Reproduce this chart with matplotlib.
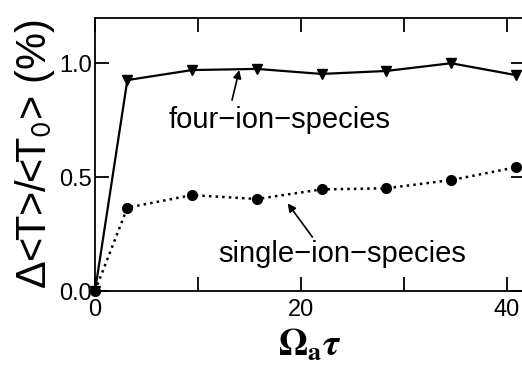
import matplotlib
matplotlib.use("Agg")
import matplotlib.pyplot as plt

plt.rcParams['font.family'] = ['Liberation Sans', 'DejaVu Sans']
plt.rcParams['mathtext.fontset'] = 'stix'

# time points (odd multiples of pi) and relative temperature change in %
omega_tau = [0.0, 3.14, 9.42, 15.71, 21.99, 28.27, 34.56, 40.84]
four_ion = [0.0, 0.926, 0.970, 0.975, 0.953, 0.966, 1.000, 0.948]
single_ion = [0.0, 0.366, 0.421, 0.404, 0.446, 0.451, 0.487, 0.543]

xticks = [0, 10, 20, 30, 40]
xticklabels = ['0', '', '20', '', '40']
yticks = [0.0, 0.5, 1.0]
yticklabels = ['0.0', '0.5', '1.0']

fig = plt.figure(figsize=(5.22, 3.73), dpi=100)
ax = fig.add_axes([0.182, 0.2198, 0.823, 0.731])

ax.plot(omega_tau, four_ion, '-', color='black', lw=1.6,
        marker='v', ms=7, clip_on=False, zorder=3)
ax.plot(omega_tau, single_ion, ':', color='black', lw=1.8,
        marker='o', ms=7, clip_on=False, zorder=3)

ax.set_xlim(0, 41.7)
ax.set_ylim(0, 1.197)
ax.set_xticks(xticks)
ax.set_xticklabels(xticklabels)
ax.set_yticks(yticks)
ax.set_yticklabels(yticklabels)

ax.tick_params(direction='in', length=10, width=1.3, labelsize=17,
               top=True, right=True)
ax.tick_params(axis='x', pad=6)
ax.tick_params(axis='y', pad=2)
for s in ax.spines.values():
    s.set_linewidth(1.3)

ax.set_ylabel('\u0394<T>/<T$_\\mathsf{0}$> (%)', fontsize=30, labelpad=2)
ax.set_xlabel(r'$\mathbf{\Omega_a}\boldsymbol{\tau}$', fontsize=27, labelpad=4)

arrow = dict(arrowstyle='-|>', color='black', lw=1.2,
             mutation_scale=12, shrinkA=0, shrinkB=0)
ax.text(7.1, 0.75, 'four\u2212ion\u2212species', fontsize=21,
        ha='left', va='center')
ax.annotate('', xy=(14.0, 0.970), xytext=(13.3, 0.838), arrowprops=arrow)
ax.text(12.0, 0.162, 'single\u2212ion\u2212species', fontsize=21,
        ha='left', va='center')
ax.annotate('', xy=(18.7, 0.385), xytext=(21.1, 0.237), arrowprops=arrow)

fig.savefig('out.png', dpi=100)
